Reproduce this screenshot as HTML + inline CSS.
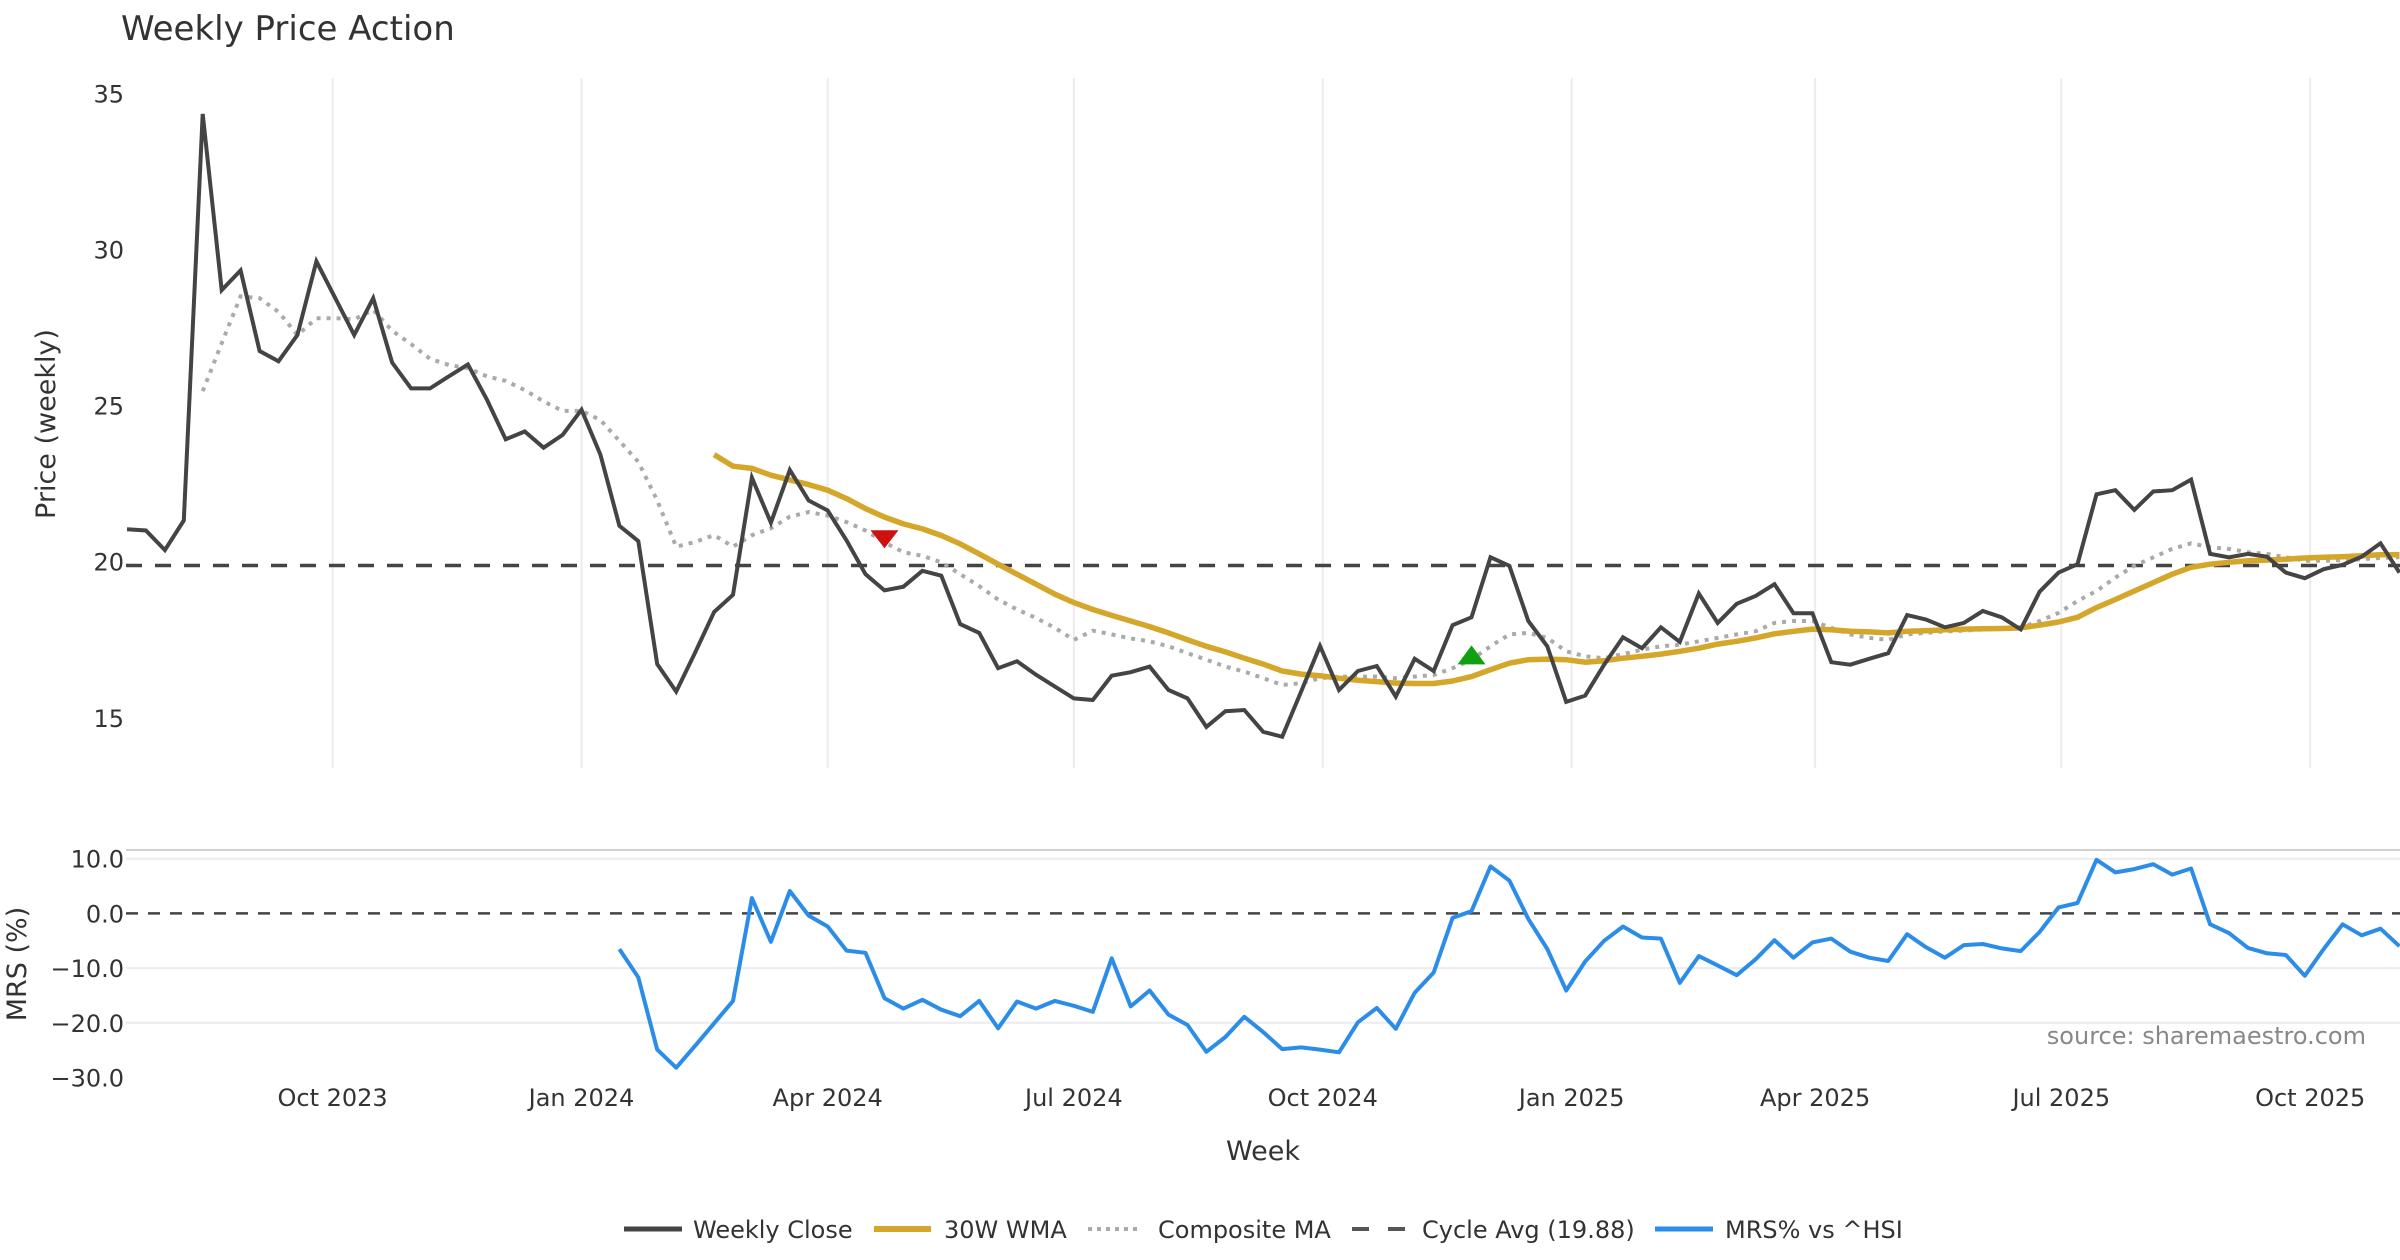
<!DOCTYPE html>
<html><head><meta charset="utf-8"><style>
html,body{margin:0;padding:0;background:#fff;}
svg{display:block;font-family:"DejaVu Sans","Liberation Sans",sans-serif;}
</style></head><body>
<svg id="chart" width="2400" height="1260" viewBox="0 0 2400 1260" xmlns="http://www.w3.org/2000/svg">
<text x="121" y="40" font-size="34" fill="#333">Weekly Price Action</text>
<g id="grid"></g>
<g id="price"></g>
<g id="mrs"></g>
<g id="axes"></g>
<text transform="translate(55,424) rotate(-90)" text-anchor="middle" font-size="27" fill="#333">Price (weekly)</text>
<text transform="translate(26,964) rotate(-90)" text-anchor="middle" font-size="27" fill="#333">MRS (%)</text>
<text x="1263" y="1160" text-anchor="middle" font-size="27" fill="#333">Week</text>
<text x="2366" y="1044" text-anchor="end" font-size="24" fill="#888">source: sharemaestro.com</text>
<g font-size="24" fill="#333">
  <g><line x1="624" y1="1229" x2="682" y2="1229" stroke="#444" stroke-width="5"/><text x="693" y="1238">Weekly Close</text></g>
  <g><line x1="874" y1="1229" x2="931" y2="1229" stroke="#d4a62a" stroke-width="6"/><text x="944" y="1238">30W WMA</text></g>
  <g><line x1="1088" y1="1229" x2="1141" y2="1229" stroke="#aaa" stroke-width="4" stroke-dasharray="4,5"/><text x="1158" y="1238">Composite MA</text></g>
  <g><line x1="1352" y1="1229" x2="1405" y2="1229" stroke="#555" stroke-width="4" stroke-dasharray="17,19"/><text x="1422" y="1238">Cycle Avg (19.88)</text></g>
  <g><line x1="1655" y1="1229" x2="1713" y2="1229" stroke="#2b8de8" stroke-width="5"/><text x="1725" y="1238">MRS% vs ^HSI</text></g>
</g>
</svg>
<script>
const closeVals=[21.04,21.0,20.37,21.32,34.34,28.7,29.33,26.75,26.42,27.26,29.62,28.44,27.26,28.44,26.38,25.55,25.55,25.94,26.32,25.2,23.92,24.17,23.65,24.06,24.87,23.43,21.15,20.66,16.72,15.84,17.09,18.39,18.94,22.69,21.25,22.94,21.96,21.64,20.68,19.6,19.08,19.2,19.71,19.55,18.0,17.72,16.59,16.81,16.38,16.0,15.62,15.57,16.35,16.46,16.64,15.89,15.62,14.71,15.21,15.25,14.55,14.39,15.84,17.3,15.89,16.5,16.66,15.68,16.89,16.5,17.97,18.22,20.14,19.87,18.1,17.29,15.51,15.71,16.7,17.58,17.23,17.9,17.43,18.98,18.04,18.65,18.9,19.28,18.35,18.35,16.78,16.7,16.89,17.07,18.29,18.15,17.9,18.04,18.42,18.22,17.83,19.04,19.65,19.92,22.16,22.29,21.66,22.25,22.29,22.63,20.25,20.14,20.25,20.16,19.65,19.47,19.76,19.9,20.16,20.59,19.65];
const compositeStart=4;
const compositeVals=[25.46,27.0,28.5,28.44,28.0,27.26,27.8,27.8,27.76,28.07,27.4,26.97,26.5,26.3,26.2,25.94,25.79,25.5,25.13,24.83,24.83,24.54,23.87,23.2,21.96,20.48,20.63,20.85,20.48,20.85,21.07,21.44,21.59,21.48,21.27,21.0,20.62,20.3,20.19,19.98,19.6,19.22,18.79,18.47,18.2,17.88,17.5,17.79,17.67,17.54,17.45,17.29,17.07,16.86,16.64,16.48,16.27,16.05,16.11,16.27,16.32,16.32,16.32,16.27,16.32,16.37,16.59,16.86,17.29,17.67,17.72,17.56,17.13,16.97,16.91,17.04,17.18,17.29,17.34,17.45,17.56,17.67,17.77,18.04,18.1,18.1,17.88,17.67,17.56,17.5,17.67,17.72,17.77,17.79,17.83,17.85,17.88,18.1,18.36,18.74,19.06,19.49,19.87,20.14,20.41,20.59,20.46,20.41,20.3,20.25,20.14,20.03,20.03,20.05,20.08,20.12,20.14];
const wmaStart=31;
const wmaVals=[23.43,23.06,22.99,22.77,22.62,22.47,22.29,22.02,21.7,21.43,21.21,21.05,20.84,20.57,20.25,19.92,19.6,19.28,18.96,18.69,18.47,18.28,18.1,17.92,17.72,17.5,17.29,17.11,16.91,16.72,16.5,16.4,16.35,16.27,16.2,16.16,16.11,16.1,16.1,16.18,16.32,16.54,16.75,16.86,16.88,16.86,16.78,16.83,16.91,16.97,17.04,17.13,17.23,17.36,17.45,17.56,17.69,17.77,17.84,17.82,17.77,17.75,17.72,17.77,17.79,17.82,17.84,17.85,17.86,17.88,17.97,18.07,18.22,18.53,18.79,19.06,19.33,19.6,19.82,19.92,19.98,20.03,20.05,20.08,20.12,20.14,20.16,20.19,20.22,20.22];
const mrsStart=26;
const mrsVals=[-6.52,-11.7,-24.9,-28.2,-24.2,-20.1,-16.0,2.8,-5.2,4.1,-0.4,-2.4,-6.8,-7.2,-15.5,-17.4,-15.8,-17.6,-18.8,-16.0,-21.0,-16.1,-17.4,-16.0,-16.9,-18.0,-8.2,-17.0,-14.1,-18.5,-20.4,-25.3,-22.6,-18.9,-21.7,-24.8,-24.5,-24.9,-25.4,-19.9,-17.3,-21.1,-14.5,-10.8,-0.8,0.4,8.6,6.0,-1.0,-6.5,-14.1,-8.8,-5.0,-2.4,-4.4,-4.6,-12.7,-7.8,-9.5,-11.3,-8.4,-4.9,-8.1,-5.3,-4.6,-7.0,-8.1,-8.7,-3.8,-6.2,-8.1,-5.8,-5.6,-6.4,-6.9,-3.4,1.1,1.9,9.8,7.5,8.1,9.0,7.1,8.2,-2.0,-3.6,-6.3,-7.3,-7.6,-11.4,-6.5,-2.0,-4.0,-2.8,-6.0];
const cycleAvg=19.88;
const sellSignals=[[40,20.75]];
const buySignals=[[71,17.0]];
const priceTicks=[15,20,25,30,35];
const mrsTicks=[10,0,-10,-20,-30];
const monthTicks=[["Oct 2023","2023-10-01"],["Jan 2024","2024-01-01"],["Apr 2024","2024-04-01"],["Jul 2024","2024-07-01"],["Oct 2024","2024-10-01"],["Jan 2025","2025-01-01"],["Apr 2025","2025-04-01"],["Jul 2025","2025-07-01"],["Oct 2025","2025-10-01"]];

const NS="http://www.w3.org/2000/svg";
const D0=Date.UTC(2023,6,17), DAY=86400000, PXD=2.7053, X0=127;
function xDate(ms){return X0+(ms-D0)/DAY*PXD;}
function xIdx(i){return xDate(D0+i*7*DAY);}
function yP(v){return 93.4+(35-v)*31.22;}
function yM(v){return 858.7+(10-v)*5.47;}
function mk(tag,attrs,parent){const e=document.createElementNS(NS,tag);for(const k in attrs)e.setAttribute(k,attrs[k]);parent.appendChild(e);return e;}
const grid=document.getElementById('grid'),price=document.getElementById('price'),mrs=document.getElementById('mrs'),axes=document.getElementById('axes');

monthTicks.forEach(t=>{
  const [y,m,d]=t[1].split('-').map(Number);const x=xDate(Date.UTC(y,m-1,d));
  const g=mk('line',{x1:x,x2:x,y1:78,y2:768,stroke:'#ececf0','stroke-width':2},grid);
  
  
  const l=mk('text',{x:x,y:1106,'text-anchor':'middle','font-size':24,fill:'#333'},axes);
  l.textContent=t[0];
  
  
});
priceTicks.forEach(v=>{
  const l=mk('text',{x:124,y:yP(v)+9,'text-anchor':'end','font-size':24,fill:'#333'},axes);
  l.textContent=v;
  
  
});
const border=mk('line',{x1:126,x2:2400,y1:850,y2:850,stroke:'#d0d0d0','stroke-width':2},grid);


mrsTicks.forEach(v=>{
  if(v!==0&&v!==-30){const g=mk('line',{x1:126,x2:2400,y1:yM(v),y2:yM(v),stroke:'#ececf0','stroke-width':2},grid);
    
    }
  const l=mk('text',{x:124,y:yM(v)+9,'text-anchor':'end','font-size':24,fill:'#333'},axes);
  l.textContent=(v<0?'\u2212'+Math.abs(v).toFixed(1):v.toFixed(1));
  
  
});
function pts(arr,start,yf){return arr.map((v,k)=>xIdx(start+k).toFixed(1)+','+yf(v).toFixed(1)).join(' ');}
const cyc=mk('line',{x1:126,x2:2400,y1:yP(cycleAvg),y2:yP(cycleAvg),stroke:'#444','stroke-width':3.5,'stroke-dasharray':'16,13'},price);


const comp=mk('polyline',{points:pts(compositeVals,compositeStart,yP),fill:'none',stroke:'#aaa','stroke-width':4,'stroke-dasharray':'4,6'},price);


const wma=mk('polyline',{points:pts(wmaVals,wmaStart,yP),fill:'none',stroke:'#d4a62a','stroke-width':5.5,'stroke-linejoin':'round'},price);


const cl=mk('polyline',{points:pts(closeVals,0,yP),fill:'none',stroke:'#444','stroke-width':4,'stroke-linejoin':'miter'},price);


sellSignals.forEach(s=>{const x=xIdx(s[0]),y=yP(s[1]);
  const t=mk('polygon',{points:`${x-14},${y-8} ${x+14},${y-8} ${x},${y+10}`,fill:'#cc1111'},price);
  
  });
buySignals.forEach(s=>{const x=xIdx(s[0]),y=yP(s[1]);
  const t=mk('polygon',{points:`${x-14},${y+9} ${x+14},${y+9} ${x},${y-10}`,fill:'#11a011'},price);
  
  });
const z=mk('line',{x1:126,x2:2400,y1:yM(0),y2:yM(0),stroke:'#444','stroke-width':2.5,'stroke-dasharray':'12,10'},mrs);


const m=mk('polyline',{points:pts(mrsVals,mrsStart,yM),fill:'none',stroke:'#2b8de8','stroke-width':4,'stroke-linejoin':'round'},mrs);


</script>
</body></html>
